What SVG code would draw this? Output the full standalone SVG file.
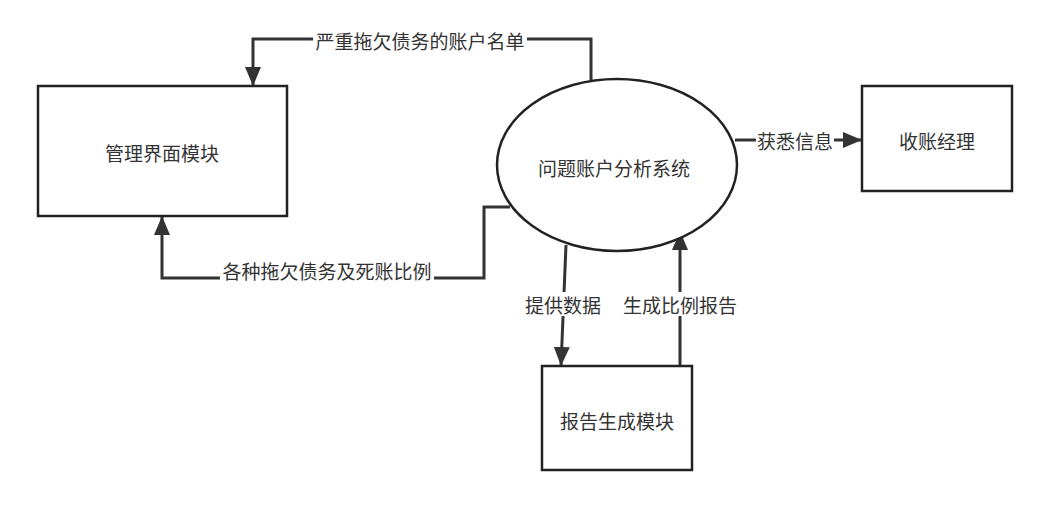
<svg xmlns="http://www.w3.org/2000/svg" width="1050" height="508" viewBox="0 0 1050 508">
<defs>
<marker id="arr" viewBox="0 0 19 16" refX="19" refY="8" markerWidth="19" markerHeight="16" markerUnits="userSpaceOnUse" orient="auto">
<path d="M0,0 L19,8 L0,16 Z" fill="#333"/>
</marker>
<style>
.node{fill:#fff;stroke:#222;stroke-width:2.5}
.t{font-family:"Noto Sans CJK SC","Liberation Sans",sans-serif;font-size:19px;fill:#333;text-anchor:middle;dominant-baseline:central}
.c{fill:none;stroke:#333;stroke-width:3}
.lb{fill:#fff}
</style>
</defs>
<rect width="1050" height="508" fill="#fff"/>
<g id="connectors">
<path class="c" d="M591,80 L591,39 L253,39 L253,86" marker-end="url(#arr)"/>
<path class="c" d="M510,207 L484,207 L484,278 L162,278 L162,216" marker-end="url(#arr)"/>
<path class="c" d="M735,140 L862,140" marker-end="url(#arr)"/>
<path class="c" d="M566,245 L561,366" marker-end="url(#arr)"/>
<path class="c" d="M680,365 L680,231" marker-end="url(#arr)"/>
<rect class="lb" x="313" y="28" width="214" height="24"/>
<text class="t" x="420" y="40">严重拖欠债务的账户名单</text>
<rect class="lb" x="220" y="258" width="214" height="24"/>
<text class="t" x="327" y="270">各种拖欠债务及死账比例</text>
<rect class="lb" x="756" y="129" width="78" height="24"/>
<text class="t" x="795" y="140">获悉信息</text>
<rect class="lb" x="524" y="292" width="78" height="24"/>
<text class="t" x="563" y="304">提供数据</text>
<rect class="lb" x="622" y="292" width="116" height="24"/>
<text class="t" x="680" y="304">生成比例报告</text>
</g>
<g id="n1"><rect class="node" x="38" y="86" width="249" height="130"/><text class="t" x="162" y="152">管理界面模块</text></g>
<g id="n2"><ellipse class="node" cx="617" cy="165" rx="120" ry="86"/><text class="t" x="614" y="167">问题账户分析系统</text></g>
<g id="n3"><rect class="node" x="862" y="86" width="150" height="105"/><text class="t" x="937" y="140">收账经理</text></g>
<g id="n4"><rect class="node" x="542" y="366" width="150" height="104"/><text class="t" x="617" y="420">报告生成模块</text></g>
</svg>
